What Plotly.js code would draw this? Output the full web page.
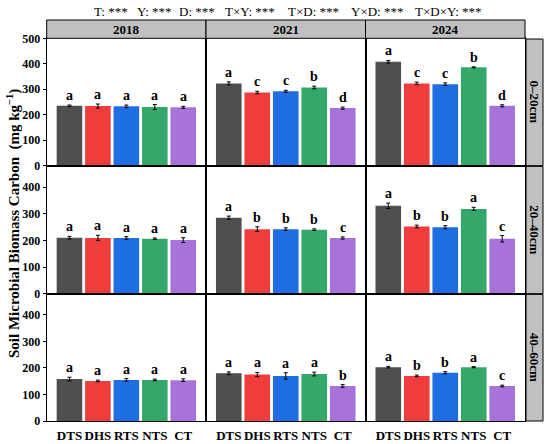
<!DOCTYPE html>
<html>
<head>
<meta charset="utf-8">
<script src="https://cdn.plot.ly/plotly-3.0.1.min.js"></script>
<style>html,body{margin:0;padding:0;background:#fff;}#chart{width:550px;height:444px;}</style>
</head>
<body>
<div id="chart"></div>
<script>
// ---- data ----
const treatments = ["DTS", "DHS", "RTS", "NTS", "CT"];
const years = ["2018", "2021", "2024"];
const depths = ["0\u201320cm", "20\u201340cm", "40\u201360cm"];
const barColors = ["#4f4f4f", "#ef3d3d", "#1f6de2", "#33a86a", "#a772da"];

// 0-20 cm
const mean_d1_2018 = [235, 234, 233, 230, 229];
const se_d1_2018   = [3, 8, 5, 10, 4];
const sig_d1_2018  = ["a", "a", "a", "a", "a"];
const mean_d1_2021 = [323, 287, 292, 307, 226];
const se_d1_2021   = [6, 5, 4, 5, 4];
const sig_d1_2021  = ["a", "c", "c", "b", "d"];
const mean_d1_2024 = [408, 323, 320, 386, 235];
const se_d1_2024   = [5, 5, 5, 2, 4];
const sig_d1_2024  = ["a", "c", "c", "b", "d"];
// 20-40 cm
const mean_d2_2018 = [210, 209, 209, 206, 201];
const se_d2_2018   = [5, 10, 5, 3, 9];
const sig_d2_2018  = ["a", "a", "a", "a", "a"];
const mean_d2_2021 = [285, 242, 242, 240, 209];
const se_d2_2021   = [6, 9, 5, 3, 4];
const sig_d2_2021  = ["a", "b", "b", "b", "c"];
const mean_d2_2024 = [330, 252, 249, 318, 206];
const se_d2_2024   = [10, 5, 6, 6, 12];
const sig_d2_2024  = ["a", "b", "b", "a", "c"];
// 40-60 cm
const mean_d3_2018 = [158, 151, 155, 155, 154];
const se_d3_2018   = [7, 3, 5, 3, 5];
const sig_d3_2018  = ["a", "a", "a", "a", "a"];
const mean_d3_2021 = [180, 175, 170, 177, 132];
const se_d3_2021   = [5, 8, 12, 7, 5];
const sig_d3_2021  = ["a", "a", "a", "a", "b"];
const mean_d3_2024 = [203, 170, 182, 203, 132];
const se_d3_2024   = [3, 3, 4, 2, 3];
const sig_d3_2024  = ["a", "b", "b", "a", "c"];

const yTicksTop = [0, 100, 200, 300, 400, 500];
const yTicksOther = [0, 100, 200, 300, 400];
const statsText = ["T: ***", "Y: ***", "D: ***", "T\u00d7Y: ***", "T\u00d7D: ***", "Y\u00d7D: ***", "T\u00d7D\u00d7Y: ***"];

const panelMeans = [
  [mean_d1_2018, mean_d1_2021, mean_d1_2024],
  [mean_d2_2018, mean_d2_2021, mean_d2_2024],
  [mean_d3_2018, mean_d3_2021, mean_d3_2024]
];
const panelSe = [
  [se_d1_2018, se_d1_2021, se_d1_2024],
  [se_d2_2018, se_d2_2021, se_d2_2024],
  [se_d3_2018, se_d3_2021, se_d3_2024]
];
const panelSig = [
  [sig_d1_2018, sig_d1_2021, sig_d1_2024],
  [sig_d2_2018, sig_d2_2021, sig_d2_2024],
  [sig_d3_2018, sig_d3_2021, sig_d3_2024]
];

// ---- layout geometry (pixels) ----
const W = 550, H = 444;
const colX = [46.7, 206, 365.5, 525];
const rowY = [38.3, 165.7, 293.7, 421];
const px = v => v / W;
const py = v => 1 - v / H;
const FONT = "Liberation Serif, Times New Roman, serif";

const traces = [];
const layout = {
  width: W, height: H,
  margin: {l: 0, r: 0, t: 0, b: 0},
  paper_bgcolor: "#fff", plot_bgcolor: "#fff",
  showlegend: false,
  bargap: 0.1,
  font: {family: FONT, color: "#000"},
  annotations: [], shapes: []
};

for (let r = 0; r < 3; r++) {
  for (let c = 0; c < 3; c++) {
    const idx = r * 3 + c + 1;
    const xa = "x" + (idx === 1 ? "" : idx);
    const ya = "y" + (idx === 1 ? "" : idx);
    traces.push({
      type: "bar", x: treatments, y: panelMeans[r][c],
      xaxis: xa, yaxis: ya,
      marker: {color: barColors, line: {width: 0}},
      error_y: {type: "data", array: panelSe[r][c], visible: true, color: "#000", thickness: 1, width: 2},
      hoverinfo: "x+y"
    });
    const yMax = r === 0 ? 500 : 480;
    layout["xaxis" + (idx === 1 ? "" : idx)] = {
      domain: [px(colX[c]), px(colX[c + 1])],
      anchor: ya, type: "category", range: [-0.8, 4.8],
      showline: true, mirror: true, linecolor: "#000", linewidth: 1,
      showgrid: false, zeroline: false, fixedrange: true,
      ticks: "", showticklabels: r === 2, tickangle: 0, ticklabelstandoff: 2,
      tickfont: {family: FONT, size: 13, color: "#000", weight: "bold"}
    };
    layout["yaxis" + (idx === 1 ? "" : idx)] = {
      domain: [py(rowY[r + 1]), py(rowY[r])],
      anchor: xa, range: [0, yMax],
      showline: true, mirror: true, linecolor: "#000", linewidth: 1,
      showgrid: false, zeroline: false, fixedrange: true,
      tickmode: "array", tickvals: r === 0 ? yTicksTop : yTicksOther,
      ticks: c === 0 ? "outside" : "", ticklen: 3, tickwidth: 1, tickcolor: "#000",
      showticklabels: c === 0,
      tickfont: {family: FONT, size: 12, color: "#000", weight: "bold"}
    };
    // significance letters
    for (let i = 0; i < treatments.length; i++) {
      layout.annotations.push({
        xref: xa, yref: ya, x: treatments[i],
        y: panelMeans[r][c][i] + panelSe[r][c][i],
        text: panelSig[r][c][i], showarrow: false,
        yanchor: "bottom", xanchor: "center", yshift: 0,
        font: {family: FONT, size: 14, color: "#000", weight: "bold"}
      });
    }
  }
}

// strips top (years)
for (let c = 0; c < 3; c++) {
  layout.shapes.push({
    type: "rect", xref: "paper", yref: "paper",
    x0: px(colX[c]), x1: px(colX[c + 1]), y0: py(38.3), y1: py(20),
    fillcolor: "#c0c0c0", line: {color: "#000", width: 1}
  });
  layout.annotations.push({
    xref: "paper", yref: "paper", x: (px(colX[c]) + px(colX[c + 1])) / 2, y: py(29.2),
    text: years[c], showarrow: false, xanchor: "center", yanchor: "middle",
    font: {family: FONT, size: 13, color: "#000", weight: "bold"}
  });
}
// strips right (depths)
for (let r = 0; r < 3; r++) {
  layout.shapes.push({
    type: "rect", xref: "paper", yref: "paper",
    x0: px(526), x1: px(543), y0: py(rowY[r + 1]), y1: py(rowY[r] + 0.7),
    fillcolor: "#c0c0c0", line: {color: "#000", width: 1}
  });
  layout.annotations.push({
    xref: "paper", yref: "paper", x: px(534.5), y: (py(rowY[r]) + py(rowY[r + 1])) / 2,
    text: depths[r], showarrow: false, textangle: 90, xanchor: "center", yanchor: "middle",
    font: {family: FONT, size: 13, color: "#000", weight: "bold"}
  });
}

// y-axis title
layout.annotations.push({
  xref: "paper", yref: "paper", x: px(14), y: py(224),
  text: "Soil Microbial Biomass Carbon\u00a0\u00a0(mg kg<sup>\u22121</sup>)",
  showarrow: false, textangle: -90, xanchor: "center", yanchor: "middle",
  font: {family: FONT, size: 15, color: "#000", weight: "bold"}
});

// stats header
const statsX = [111, 154, 197, 250, 313.5, 377, 448.5];
for (let i = 0; i < statsText.length; i++) {
  layout.annotations.push({
    xref: "paper", yref: "paper", x: px(statsX[i]), y: py(12),
    text: statsText[i], showarrow: false, xanchor: "center", yanchor: "middle",
    font: {family: FONT, size: 13, color: "#000"}
  });
}

Plotly.newPlot("chart", traces, layout, {displayModeBar: false, staticPlot: true});
</script>
</body>
</html>
